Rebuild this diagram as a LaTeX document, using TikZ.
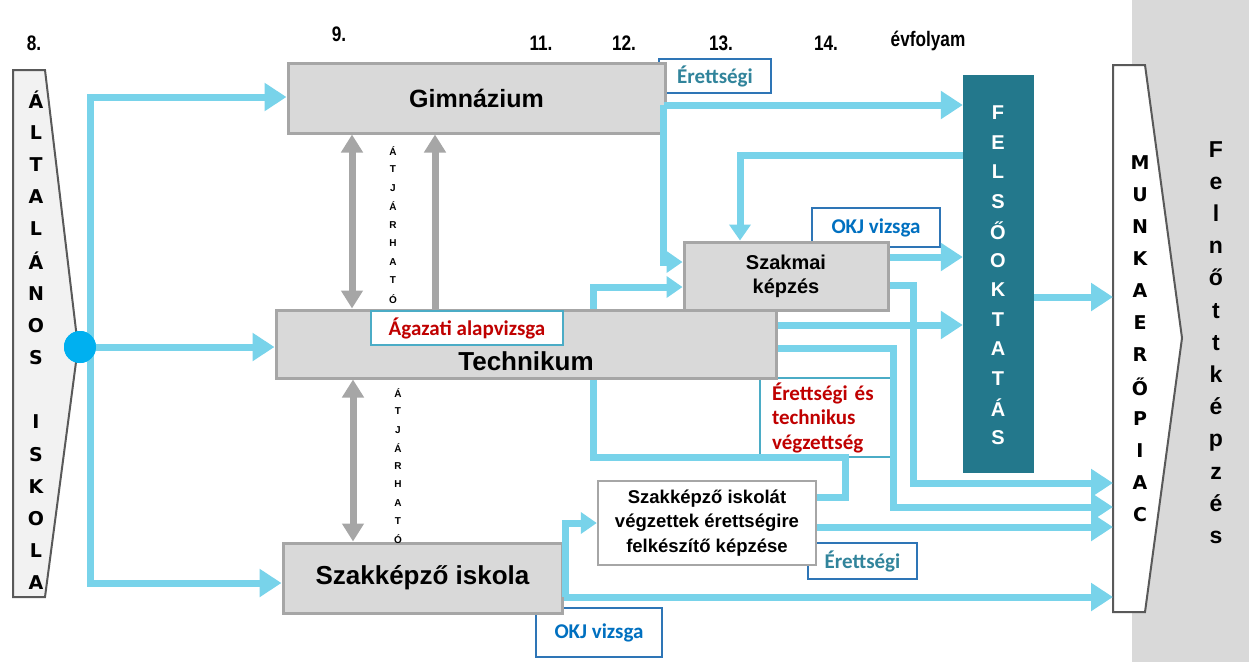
\documentclass[tikz,border=0pt]{standalone}
\usepackage{fontspec}
\setmainfont{Liberation Sans}
\newfontfamily\calib{Carlito}
\newfontfamily\narrowf[FakeStretch=0.82]{Liberation Sans}
\newfontfamily\dvs{DejaVu Sans}
\usetikzlibrary{arrows.meta,calc}
\definecolor{bluel}{RGB}{120,211,234}
\definecolor{dotc}{RGB}{0,176,240}
\definecolor{boxfill}{RGB}{217,217,217}
\definecolor{boxdraw}{RGB}{166,166,166}
\definecolor{felsoc}{RGB}{35,120,140}
\definecolor{labblue}{RGB}{46,117,182}
\definecolor{labteal}{RGB}{75,172,198}
\definecolor{tealtxt}{RGB}{49,132,155}
\definecolor{okjblue}{RGB}{0,112,192}
\definecolor{redtxt}{RGB}{192,0,0}
\definecolor{pentdraw}{RGB}{89,89,89}
\definecolor{pentfill}{RGB}{242,242,242}
\begin{document}
\begin{tikzpicture}[x=1pt,y=-1pt,
  box/.style={draw=boxdraw, line width=3pt, fill=boxfill, inner sep=0pt},
  lab/.style={draw=labblue, line width=1.2pt, fill=white, inner sep=0pt, font=\calib\bfseries\fontsize{21}{24.5}\selectfont},
  year/.style={font=\narrowf\bfseries\fontsize{21}{24}\selectfont},
  bline/.style={draw=bluel, line width=7pt},
  barrow/.style={bline, -{Triangle[length=22pt,width=27pt]}},
  barrows/.style={bline, -{Triangle[length=16pt,width=21pt]}},
  garrow/.style={draw=boxdraw, line width=7pt, -{Triangle[length=18pt,width=21pt]}},
  garrowb/.style={draw=boxdraw, line width=7pt, {Triangle[length=18pt,width=21pt]}-{Triangle[length=18pt,width=21pt]}},
  stackA/.style={font=\dvs\bfseries\fontsize{19}{19}\selectfont, inner sep=0pt},
  stackS/.style={font=\bfseries\fontsize{10}{10}\selectfont, inner sep=0pt},
]
\useasboundingbox (0,0) rectangle (1249,662);
% right gray band
\fill[boxfill] (1132,0) rectangle (1249,662);

% year labels
\node[year] (y8) at (34,43) {8.};
\node[year] (y9) at (339,34) {9.};
\node[year] (y11) at (541,43) {11.};
\node[year] (y12) at (624,43) {12.};
\node[year] (y13) at (721,43) {13.};
\node[year] (y14) at (826,43) {14.};
\node[year] (yev) at (928,41) {évfolyam};

% left pentagon
\draw[pentdraw, fill=pentfill, line width=2pt] (13,70) -- (45,70) -- (78,347) -- (45,597) -- (13,597) -- cycle;
\foreach \l [count=\i] in {Á,L,T,A,L,Á,N,O,S,{},I,S,K,O,L,A}
  \node[stackA] (alt\i) at (36,{100+32.2*(\i-1)}) {\l};

% right pentagon
\draw[pentdraw, fill=white, line width=2pt] (1113,65) -- (1145,65) -- (1182,338) -- (1145,612) -- (1113,612) -- cycle;
\coordinate (munkaW) at (1113,338);
\foreach \l [count=\i] in {M,U,N,K,A,E,R,Ő,P,I,A,C}
  \node[stackA] (mun\i) at (1140,{163+32*(\i-1)}) {\l};
\foreach \l [count=\i] in {F,e,l,n,ő,t,t,k,é,p,z,é,s}
  \node[font=\bfseries\fontsize{23}{23}\selectfont, inner sep=0pt, anchor=base] (fel\i) at (1216,{157+32.2*(\i-1)}) {\l};

% labels (behind lines)
\node[lab, minimum width=112pt, minimum height=34pt, text=tealtxt] (er1) at (715,76) {Érettségi};
\node[lab, minimum width=128pt, minimum height=39pt, text=okjblue] (okj1) at (876,227.5) {OKJ vizsga};
\node[lab, draw=labteal, minimum width=134pt, minimum height=79pt, text=redtxt, align=left, text width=110pt] (ertech) at (827,417.5) {Érettségi és\\technikus\\végzettség};
\node[lab, minimum width=109pt, minimum height=36pt, text=tealtxt] (er2) at (862.5,561) {Érettségi};
\node[lab, minimum width=126pt, minimum height=49pt, text=okjblue] (okj2) at (599,632.5) {OKJ vizsga};

% boxes
\node[box, minimum width=377pt, minimum height=70pt, font=\bfseries\fontsize{25}{30}\selectfont] (gim) at (476.5,98) {Gimnázium};
\node[box, minimum width=500pt, minimum height=68pt] (tech) at (526,344) {};
\node[inner sep=0pt, font=\bfseries\fontsize{26}{30}\selectfont] (techtxt) at (526,361) {Technikum};
\node[lab, draw=labteal, minimum width=192pt, minimum height=34pt, text=redtxt] (agaz) at (467,328) {Ágazati alapvizsga};
\node[box, minimum width=279pt, minimum height=70pt, font=\bfseries\fontsize{26}{30}\selectfont] (szi) at (422.5,578) {Szakképző iskola};
\node[box, minimum width=204pt, minimum height=68pt, align=center, font=\bfseries\fontsize{20}{24}\selectfont] (szk) at (786,276) {Szakmai\\képzés};
\node[box, fill=white, line width=2.5pt, minimum width=218pt, minimum height=84pt, align=center, font=\bfseries\fontsize{18.5}{24.5}\selectfont] (szit) at (707,523) {Szakképző iskolát\\végzettek érettségire\\felkészítő képzése};
\node[fill=felsoc, minimum width=71pt, minimum height=398pt, inner sep=0pt] (felso) at (998.5,274) {};
\foreach \l [count=\i] in {F,E,L,S,Ő,O,K,T,A,T,Á,S}
  \node[font=\bfseries\fontsize{20}{20}\selectfont, text=white, inner sep=0pt] (fo\i) at (998,{113+29.5*(\i-1)}) {\l};

% blue connectors
\node[circle, fill=dotc, minimum size=32pt, inner sep=0pt] (dot) at (80,347) {};
\draw[barrow] ([xshift=10pt]dot.center) |- (gim.west |- 0,97);
\draw[barrow] (dot.center) -- (tech.west |- dot.center);
\draw[barrow] ([xshift=10pt]dot.center) |- (szi.west |- 0,583);
\draw[barrow] ([xshift=-3pt]gim.east |- 0,105) -- (felso.west |- 0,105);
\draw[barrows] ([xshift=-3pt]gim.east |- 0,105) |- (szk.west |- 0,262);
\draw[barrows] (felso.west |- 0,155) -| (szk.north -| 740,0);
\draw[barrow] (felso.east |- 0,297) -- (munkaW |- 0,297);
\draw[barrow] (szk.east |- 0,257) -- (felso.west |- 0,257);
\draw[barrow] (szk.east |- 0,285) -| (913,483) -- (munkaW |- 0,483);
\draw[barrows] (tech.north -| 593,0) |- (szk.west |- 0,287);
\draw[barrow] (tech.east |- 0,325) -- (felso.west |- 0,325);
\draw[barrow] (tech.east |- 0,348) -| (893,507) -- (munkaW |- 0,507);
\draw[bline] (tech.south -| 593,0) |- (845,457) |- (szit.east |- 0,497);
\draw[barrow] (szit.east |- 0,527) -- (munkaW |- 0,527);
\draw[barrow] (szi.east |- 0,597) -- (munkaW |- 0,597);
\draw[barrows] ([xshift=2pt]szi.east |- 0,597) |- (szit.west |- 0,523);
\node[circle, fill=dotc, minimum size=32pt, inner sep=0pt] (dot2) at (dot) {};

% gray arrows
\draw[garrowb] (gim.south -| 352,0) -- (tech.north -| 352,0);
\draw[garrow] (tech.north -| 435,0) -- (gim.south -| 435,0);
\draw[garrowb] (tech.south -| 353,0) -- (szi.north -| 353,0);
\foreach \l [count=\i] in {Á,T,J,Á,R,H,A,T,Ó}
  \node[stackS] (at\i) at (393,{151+18.5*(\i-1)}) {\l};
\foreach \l [count=\i] in {Á,T,J,Á,R,H,A,T,Ó}
  \node[stackS] (ab\i) at (398,{393+18.3*(\i-1)}) {\l};
\end{tikzpicture}
\end{document}
